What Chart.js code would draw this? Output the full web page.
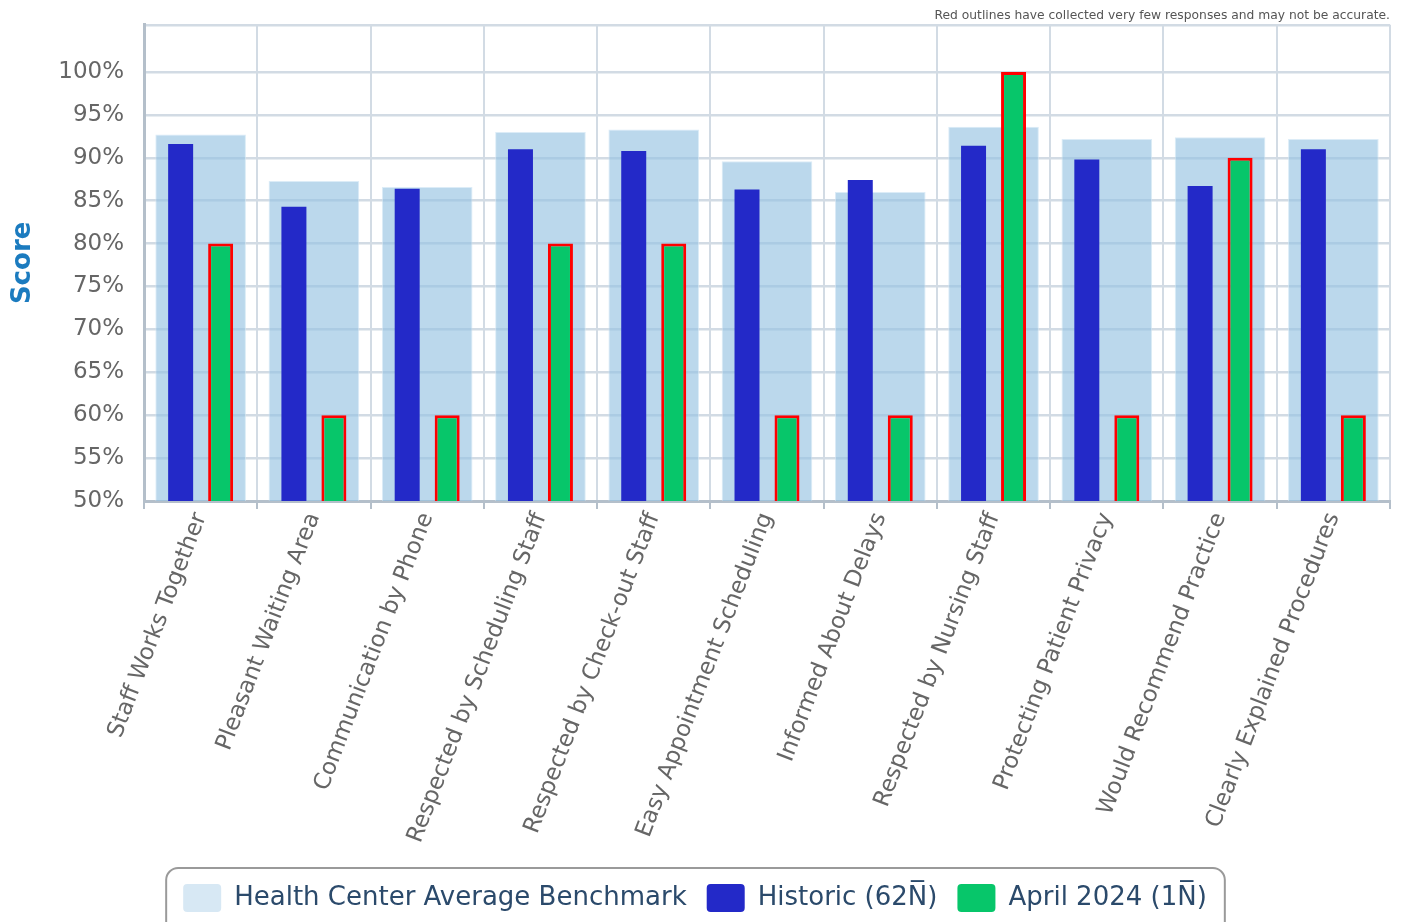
<!DOCTYPE html>
<html lang="en">
<head>
    <meta charset="UTF-8">
    <title>Score Chart</title>
    <script src="https://cdn.jsdelivr.net/npm/chart.js"></script>
    <style>
        html, body { margin: 0; padding: 0; background: #fff; }
        #wrap { width: 1408px; height: 922px; }
    </style>
</head>
<body>
    <div id="wrap"><canvas id="chart"></canvas></div>

    <script>
        const categories = [
            'Staff Works Together', 'Pleasant Waiting Area', 'Communication by Phone',
            'Respected by Scheduling Staff', 'Respected by Check-out Staff', 'Easy Appointment Scheduling',
            'Informed About Delays', 'Respected by Nursing Staff', 'Protecting Patient Privacy',
            'Would Recommend Practice', 'Clearly Explained Procedures'
        ];
        const benchmark = [92.7, 87.3, 86.6, 93.0, 93.3, 89.6, 86.0, 93.6, 92.2, 92.4, 92.2];
        const historic = [91.6, 84.3, 86.4, 91.0, 90.8, 86.3, 87.4, 91.4, 89.8, 86.7, 91.0];
        const april2024 = [80, 60, 60, 80, 80, 60, 60, 100, 60, 90, 60];
        const yTicks = [50, 55, 60, 65, 70, 75, 80, 85, 90, 95, 100];
        const yMin = 50, yMax = 105.5;

        // rounded frame around the legend, like the original
        const legendBox = {
            id: 'legendBox',
            afterDraw(chart) {
                const boxes = chart.legend.legendHitBoxes;
                if (!boxes || !boxes.length) return;
                const first = boxes[0], last = boxes[boxes.length - 1];
                const x = first.left - 17, y = first.top - 16;
                const w = last.left + last.width - x + 18, h = 80;
                const ctx = chart.ctx;
                ctx.save();
                ctx.strokeStyle = '#9a9a9a';
                ctx.lineWidth = 2;
                ctx.beginPath();
                ctx.roundRect(x, y, w, h, 12);
                ctx.stroke();
                ctx.restore();
            }
        };

        const legendColors = ['#d7e8f4', '#2329c8', '#07c66a'];

        new Chart(document.getElementById('chart'), {
            type: 'bar',
            data: {
                labels: categories,
                datasets: [
                    {
                        label: 'Health Center Average Benchmark',
                        data: benchmark,
                        grouped: false,
                        backgroundColor: 'rgba(150,195,226,0.65)',
                        borderColor: 'rgba(205,228,244,0.7)',
                        borderWidth: 1,
                        barPercentage: 0.8,
                        categoryPercentage: 1,
                        order: 1
                    },
                    {
                        label: 'Historic (62N\u0305)',
                        data: historic,
                        backgroundColor: '#2329c8',
                        barPercentage: 0.625,
                        categoryPercentage: 0.706,
                        order: 0
                    },
                    {
                        label: 'April 2024 (1N\u0305)',
                        data: april2024,
                        backgroundColor: '#07c66a',
                        borderColor: '#ff0000',
                        borderWidth: 3,
                        borderSkipped: false,
                        barPercentage: 0.625,
                        categoryPercentage: 0.706,
                        order: 0
                    }
                ]
            },
            options: {
                responsive: true,
                maintainAspectRatio: false,
                animation: false,
                layout: { padding: { left: 0, right: 18, top: 0, bottom: 0 } },
                plugins: {
                    title: {
                        display: true,
                        text: 'Red outlines have collected very few responses and may not be accurate.',
                        align: 'end',
                        color: '#555',
                        font: { family: 'DejaVu Sans', size: 12.3, weight: 'normal' },
                        padding: { top: 8, bottom: 2 }
                    },
                    tooltip: { enabled: false },
                    legend: {
                        position: 'bottom',
                        labels: {
                            font: { family: 'DejaVu Sans', size: 26 },
                            color: '#2b4a6b',
                            boxWidth: 38,
                            boxHeight: 28,
                            padding: 20,
                            useBorderRadius: true,
                            borderRadius: 4,
                            generateLabels(chart) {
                                return chart.data.datasets.map((ds, i) => ({
                                    text: ds.label,
                                    fillStyle: legendColors[i],
                                    strokeStyle: 'rgba(0,0,0,0)',
                                    lineWidth: 0,
                                    fontColor: '#2b4a6b',
                                    borderRadius: 4,
                                    datasetIndex: i,
                                    hidden: false
                                }));
                            }
                        }
                    }
                },
                scales: {
                    x: {
                        grid: {
                            color: '#d2dbe4',
                            lineWidth: 2,
                            offset: true,
                            tickLength: 8,
                            tickColor: '#b4bfca'
                        },
                        border: { color: '#b4bfca', width: 3 },
                        ticks: {
                            minRotation: 69,
                            maxRotation: 69,
                            color: '#666',
                            font: { family: 'DejaVu Sans', size: 23 },
                            padding: 0,
                            autoSkip: false
                        },
                        afterFit(scale) { scale.height = 363; }
                    },
                    y: {
                        min: yMin,
                        max: yMax,
                        afterBuildTicks(scale) {
                            scale.ticks = yTicks.map(v => ({ value: v })).concat([{ value: yMax }]);
                        },
                        grid: {
                            color: '#d2dbe4',
                            lineWidth: 2.5,
                            drawTicks: false
                        },
                        border: { color: '#b4bfca', width: 3 },
                        ticks: {
                            color: '#666',
                            font: { family: 'DejaVu Sans', size: 23 },
                            padding: 20,
                            callback: v => (v <= 100 ? v + '%' : '')
                        },
                        title: {
                            display: true,
                            text: 'Score',
                            color: '#1b7bbf',
                            font: { family: 'DejaVu Sans', size: 26, weight: 'bold' },
                            padding: { top: 8, bottom: 0 }
                        },
                        afterFit(scale) {
                            scale.width = 144;
                            scale.paddingTop = 0;
                        }
                    }
                }
            },
            plugins: [legendBox]
        });
    </script>
</body>
</html>
